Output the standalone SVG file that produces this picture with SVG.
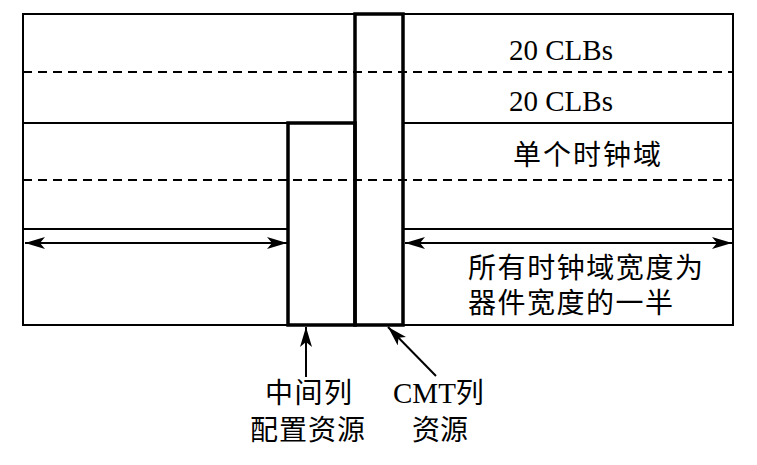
<svg xmlns="http://www.w3.org/2000/svg" width="757" height="465" viewBox="0 0 757 465">
<style>
.thin{stroke:#000;stroke-width:2;fill:none}
.thick{stroke:#000;stroke-width:3.5;fill:none}
.dash{stroke:#000;stroke-width:2;stroke-dasharray:9 6;fill:none}
.arr{stroke:#000;stroke-width:2;fill:none}
.lat{font-family:"Liberation Serif","Noto Sans CJK SC",serif;font-size:29px;fill:#000}
.cjk{font-family:"Noto Sans CJK SC","Liberation Serif",sans-serif;font-size:28px;fill:#000}
</style>
<defs>
<marker id="ah" viewBox="0 0 20 12" refX="20" refY="6" markerWidth="20" markerHeight="12" markerUnits="userSpaceOnUse" orient="auto-start-reverse">
<path d="M0,0 L20,6 L0,12 L5,6 Z" fill="#000"/>
</marker>
</defs>
<rect width="757" height="465" fill="#fff"/>
<g id="frame">
<rect class="thin" x="23" y="14" width="710" height="311"/>
<line class="dash" x1="23" y1="72" x2="733" y2="72"/>
<line class="dash" x1="23" y1="180" x2="733" y2="180"/>
<line class="thin" x1="23" y1="123" x2="288" y2="123"/>
<line class="thin" x1="403" y1="123" x2="733" y2="123"/>
<line class="thin" x1="23" y1="229" x2="288" y2="229"/>
<line class="thin" x1="403" y1="229" x2="733" y2="229"/>
</g>
<g id="middle-column">
<rect class="thick" x="288" y="123" width="67" height="202"/>
</g>
<g id="cmt-column">
<rect class="thick" x="355" y="14" width="48" height="311"/>
</g>
<g id="connectors">
<line class="arr" x1="25" y1="243" x2="287" y2="243" marker-start="url(#ah)" marker-end="url(#ah)"/>
<line class="arr" x1="405" y1="243" x2="732" y2="243" marker-start="url(#ah)" marker-end="url(#ah)"/>
<line class="arr" x1="306" y1="377" x2="306" y2="327" marker-end="url(#ah)"/>
<line class="arr" x1="436" y1="376" x2="388" y2="327" marker-end="url(#ah)"/>
</g>
<g id="labels">
<text class="lat" x="561" y="60" text-anchor="middle">20 CLBs</text>
<text class="lat" x="561" y="111" text-anchor="middle">20 CLBs</text>
<text class="cjk" x="513" y="165" textLength="148">单个时钟域</text>
<text class="cjk"><tspan x="468" y="278" textLength="235">所有时钟域宽度为</tspan><tspan x="468" y="313" textLength="205">器件宽度的一半</tspan></text>
<text class="cjk"><tspan x="265" y="403" textLength="87">中间列</tspan><tspan x="250" y="440" textLength="115">配置资源</tspan></text>
<text class="lat"><tspan x="393" y="403">CMT<tspan class="cjk">列</tspan></tspan><tspan class="cjk" x="412" y="440">资源</tspan></text>
</g>
</svg>
